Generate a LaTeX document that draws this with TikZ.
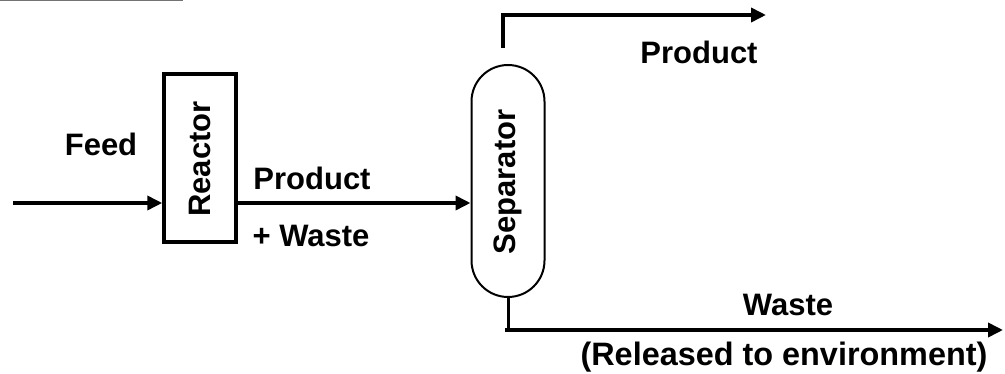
\documentclass[tikz,border=0pt]{standalone}
\usepackage{fontspec}
\setmainfont{Liberation Sans}
\usetikzlibrary{arrows.meta}
\begin{document}
\begin{tikzpicture}[x=1pt,y=-1pt,
  lbl/.style={font=\fontsize{31}{36}\selectfont\bfseries, inner sep=0pt},
  arr/.style={line width=3.6pt, -{Triangle[length=15pt,width=14pt]}},
  pipe/.style={line width=3pt}]
\useasboundingbox (0,0) rectangle (1005,374);
% top-left gray rule
\draw[line width=1.5pt, color=black!55] (0,0.75) -- (183,0.75);
% units
\node[draw, line width=3.5pt, minimum width=72pt, minimum height=168pt, inner sep=0pt] (reactor) at (200,158) {};
\node[lbl, rotate=90] (reactortxt) at (200,159) {Reactor};
\node[draw, line width=2pt, minimum width=73pt, minimum height=232pt, rounded corners=36.5pt, inner sep=0pt] (sep) at (508,181) {};
\node[lbl, rotate=90] (septxt) at (508,182) {Separator};
% coordinates
\coordinate (feedin) at (13,203);
\coordinate (topstart) at (503,48);
\coordinate (topcorner) at (503,15);
\coordinate (topend) at (766,15);
\coordinate (wstart) at (505,330);
\coordinate (wend) at (1003,330);
% connectors
\draw[arr] (feedin) -- (feedin -| reactor.west);
\draw[arr] (reactor.east |- feedin) -- (sep.west |- feedin);
\draw[arr] (topstart) -- (topcorner) -- (topend);
\draw[pipe] (sep.south) -- (sep.south |- wstart);
\draw[arr] (wstart) -- (wend);
% labels
\node[lbl] (feed) at (101,144) {Feed};
\node[lbl] (prod1) at (312,178) {Product};
\node[lbl] (waste1) at (311,236) {+ Waste};
\node[lbl] (prod2) at (699,52) {Product};
\node[lbl] (waste2) at (788,305) {Waste};
\node[lbl, font=\fontsize{32.4}{38}\selectfont\bfseries] (rel) at (784,357) {(Released to environment)};
\end{tikzpicture}
\end{document}
